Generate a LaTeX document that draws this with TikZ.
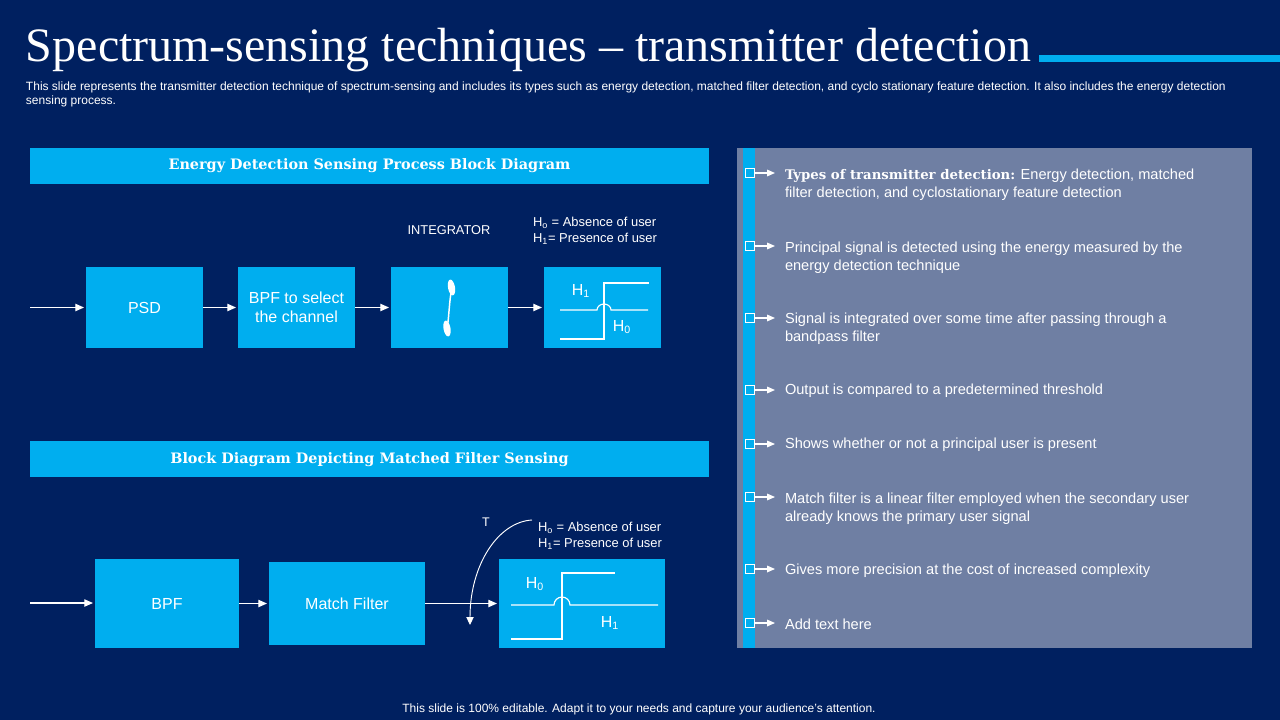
\documentclass[tikz,border=0pt]{standalone}
\usepackage{fontspec}
\setmainfont{Liberation Sans}
\newfontfamily\serifface{Liberation Serif}
\newfontfamily\headface{DejaVu Serif}
\usetikzlibrary{arrows.meta}
\definecolor{bgnavy}{HTML}{002060}
\definecolor{skyb}{HTML}{00AEEF}
\definecolor{slate}{HTML}{6F7FA3}
\newcommand{\fs}[2]{\fontsize{#1}{#2}\selectfont}
\tikzset{
  x=0.75pt,y=-0.75pt,
  every node/.style={text=white,inner sep=0pt,outer sep=0pt},
  band/.style={fill=skyb,minimum width=509.25pt,minimum height=27pt},
  bandtext/.style={font=\headface\bfseries\fs{10.8}{13}},
  block/.style={fill=skyb,minimum width=87.75pt,minimum height=60.75pt,align=center,font=\fs{12}{14.5}},
  wire/.style={draw=white,line width=0.85pt},
  flow/.style={wire,-{Triangle[length=6.5pt,width=5.5pt]},shorten >=1.5pt},
  legend/.style={font=\fs{9.7}{12},align=left,anchor=west},
  bodytext/.style={font=\fs{10.95}{13.5},align=left,anchor=west},
  tick/.style={draw=white,line width=0.6pt,minimum width=7pt,minimum height=7pt},
  sig/.style={font=\fs{12}{14}},
}
\begin{document}
\begin{tikzpicture}
\useasboundingbox (0,0) rectangle (1280,720);
\fill[bgnavy] (0,0) rectangle (1280,720);
% title
\node[anchor=base west,font=\serifface\fs{36}{40}] (title) at (26,62) {Spectrum-sensing techniques – transmitter detection};
\fill[skyb] (1039,55) rectangle (1280,62);
\node[anchor=west,align=left,font=\fs{9}{10.5}] (sub) at (26,94.5) {This slide represents the transmitter detection technique of spectrum-sensing and includes its types such as energy detection, matched filter detection, and cyclo stationary feature detection. It also includes the energy detection\\sensing process.};
% bands
\node[band] (band1) at (369.5,166) {};
\node[band] (band2) at (369.5,459) {};
\node[bandtext] (band1text) at (369.5,166) {Energy Detection Sensing Process Block Diagram};
\node[bandtext] (band2text) at (369.5,460) {Block Diagram Depicting Matched Filter Sensing};
% upper row
\coordinate (in1) at (30,307.5);
\node[block] (psd) at (144.5,307.5) {PSD};
\node[block] (bpfa) at (296.5,307.5) {BPF to select\\the channel};
\node[block] (integ) at (449.5,307.5) {};
\node[block] (cmpa) at (602.5,307.5) {};
\draw[flow] (in1) -- (psd);
\draw[flow] (psd) -- (bpfa);
\draw[flow] (bpfa) -- (integ);
\draw[flow] (integ) -- (cmpa);
\node[font=\fs{9.6}{13}] (intlabel) at (449,230.5) {INTEGRATOR};
\node[legend] (lega) at (533,231) {H\textsubscript{o} = Absence of user\\H\textsubscript{1}= Presence of user};
% integral sign
\draw[white,line width=1.1pt] (451.5,290) .. controls (449.5,300) and (449,315) .. (447.5,326);
\fill[white,rotate around={10:(451.5,287.5)}] (451.5,287.5) ellipse [x radius=3.5,y radius=8];
\fill[white,rotate around={10:(447,328.5)}] (447,328.5) ellipse [x radius=3.5,y radius=8];
% comparator 1
\draw[wire] (560,310) -- (597,310) arc[start angle=180,end angle=360,x radius=7,y radius=6] -- (648,310);
\draw[wire] (560,339) -- (604,339) -- (604,283) -- (649,283);
\node[sig] (h1a) at (581,291) {H\textsubscript{1}};
\node[sig] (h0a) at (622,327) {H\textsubscript{0}};
% lower row
\coordinate (in2) at (30,603);
\node[block,minimum width=108pt,minimum height=66.75pt] (bpfb) at (167,603.5) {BPF};
\node[block,minimum width=117pt,minimum height=62.25pt] (match) at (347,603.5) {Match Filter};
\node[block,minimum width=124.5pt,minimum height=66.75pt] (cmpb) at (582,603.5) {};
\draw[flow] (in2) -- (bpfb.west |- in2);
\draw[flow] (bpfb) -- (match);
\draw[flow] (match) -- (cmpb);
\node[font=\fs{9.4}{12}] (tlabel) at (486,522.5) {T};
\coordinate (tstart) at (532,520);
\coordinate (tend) at (470,625);
\draw[wire,line width=0.7pt,-{Triangle[length=6pt,width=5.5pt]}] (tstart) .. controls (498,522) and (470,565) .. (tend);
\node[legend] (legb) at (538,536) {H\textsubscript{o} = Absence of user\\H\textsubscript{1}= Presence of user};
% comparator 2
\draw[wire] (511,605) -- (554,605) arc[start angle=180,end angle=360,x radius=8,y radius=8] -- (658,605);
\draw[wire] (511,639) -- (562,639) -- (562,573) -- (615,573);
\node[sig] (h0b) at (535,584) {H\textsubscript{0}};
\node[sig] (h1b) at (610,623) {H\textsubscript{1}};
% panel
\fill[slate] (737,148) rectangle (1252,648);
\fill[skyb] (743,148) rectangle (755,648);
\newcommand{\bul}[2]{%
  \node[tick] (sq#1) at (750,#2) {};
  \coordinate (tip#1) at (775,#2);
  \draw[wire,-{Triangle[length=6pt,width=5pt]}] (sq#1) -- (tip#1);
}
\bul{1}{173}\bul{2}{246}\bul{3}{318}\bul{4}{390}\bul{5}{444}\bul{6}{497}\bul{7}{569}\bul{8}{623}
\node[bodytext] (t1) at (785,185) {{\headface\bfseries\fs{9.95}{13.5}Types of transmitter detection:} Energy detection, matched\\filter detection, and cyclostationary feature detection};
\node[bodytext] (t2) at (785,257.5) {Principal signal is detected using the energy measured by the\\energy detection technique};
\node[bodytext] (t3) at (785,328.5) {Signal is integrated over some time after passing through a\\bandpass filter};
\node[bodytext] (t4) at (785,391) {Output is compared to a predetermined threshold};
\node[bodytext] (t5) at (785,445) {Shows whether or not a principal user is present};
\node[bodytext] (t6) at (785,508.5) {Match filter is a linear filter employed when the secondary user\\already knows the primary user signal};
\node[bodytext] (t7) at (785,570.5) {Gives more precision at the cost of increased complexity};
\node[bodytext] (t8) at (785,624) {Add text here};
% footer
\node[font=\fs{9}{11}] (foot) at (639,709.5) {This slide is 100\% editable. Adapt it to your needs and capture your audience's attention.};
\end{tikzpicture}
\end{document}
